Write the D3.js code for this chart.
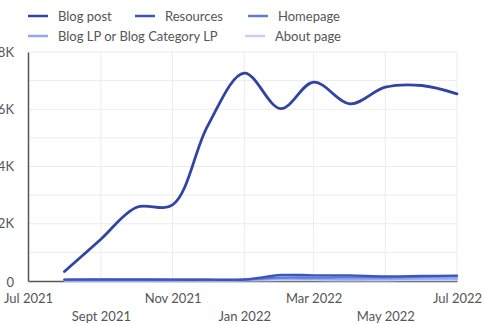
<!DOCTYPE html>
<html>
<head>
<meta charset="utf-8">
<script src="https://cdn.jsdelivr.net/npm/d3@7"></script>
<style>
  html, body { margin: 0; padding: 0; background: #fff; }
  svg text { font-family: Lato, "Open Sans", sans-serif; fill: #555; }
</style>
</head>
<body>
<svg id="chart" width="483" height="324"></svg>
<script>
// Monthly page views by page type
const months = ["2021-08-01","2021-09-01","2021-10-01","2021-11-01","2021-12-01","2022-01-01",
                "2022-02-01","2022-03-01","2022-04-01","2022-05-01","2022-06-01","2022-07-01"];
const seriesNames = ["Blog post", "Resources", "Homepage", "Blog LP or Blog Category LP", "About page"];
const blogPost   = [330, 1460, 2570, 2660, 5430, 7260, 6020, 6950, 6190, 6770, 6830, 6540];
const resources  = [45, 45, 50, 45, 45, 50, 210, 200, 195, 165, 175, 190];
const homepage   = [50, 55, 55, 50, 50, 55, 120, 120, 130, 130, 150, 160];
const blogLP     = [30, 35, 30, 30, 30, 35, 80, 75, 60, 70, 80, 80];
const aboutPage  = [15, 15, 15, 15, 15, 20, 30, 30, 25, 25, 30, 30];
const yTicks = [0, 2000, 4000, 6000, 8000];
const xTickLabels = ["Jul 2021", "Sept 2021", "Nov 2021", "Jan 2022", "Mar 2022", "May 2022", "Jul 2022"];
const xTickDates = ["2021-07-01","2021-09-01","2021-11-01","2022-01-01","2022-03-01","2022-05-01","2022-07-01"];

const colors = ["#2f45a3", "#3a55bd", "#5f7bd8", "#95a8ea", "#c6d0f3"];
const allValues = [blogPost, resources, homepage, blogLP, aboutPage];

const parse = d3.utcParse("%Y-%m-%d");
const dates = months.map(parse);

const svg = d3.select("#chart");
const m = { left: 28, right: 26, top: 52, bottom: 43 };
const W = 483, H = 324;

const x = d3.scaleUtc()
  .domain([parse("2021-07-01"), parse("2022-07-01")])
  .range([m.left, W - m.right]);
const y = d3.scaleLinear().domain([0, 8000]).range([H - m.bottom, m.top]);

// grid
const g = svg.append("g");
g.selectAll("line.hg").data(d3.range(1000, 8001, 1000)).join("line")
  .attr("x1", m.left).attr("x2", W - m.right)
  .attr("y1", d => y(d)).attr("y2", d => y(d))
  .attr("stroke", "#ececec").attr("stroke-width", 1);
g.selectAll("line.vg").data(xTickDates.slice(1).map(parse)).join("line")
  .attr("x1", d => x(d)).attr("x2", d => x(d))
  .attr("y1", m.top).attr("y2", H - m.bottom)
  .attr("stroke", "#ececec").attr("stroke-width", 1);

// axes
const yAxis = d3.axisLeft(y).tickValues(yTicks).tickSize(0).tickPadding(14)
  .tickFormat(d => d === 0 ? "0" : (d / 1000) + "K");
const ya = svg.append("g").attr("transform", `translate(${m.left},0)`).call(yAxis);
ya.select(".domain").attr("stroke", "#555").attr("stroke-width", 1.5);
ya.selectAll("text").attr("font-size", 13).attr("fill", "#555")
  .attr("dy", (d) => d === 0 ? "0.45em" : "0.32em");

const tickMap = new Map(xTickDates.map((d, i) => [+parse(d), xTickLabels[i]]));
const xAxis = d3.axisBottom(x).tickValues(xTickDates.map(parse)).tickSize(0)
  .tickFormat(d => tickMap.get(+d));
const xa = svg.append("g").attr("transform", `translate(0,${H - m.bottom})`).call(xAxis);
xa.select(".domain").attr("stroke", "#555").attr("stroke-width", 1.5);
xa.selectAll("text").attr("font-size", 13).attr("fill", "#555")
  .attr("y", (d, i) => i % 2 === 0 ? 13 : 31).attr("dy", "0.71em");

// lines, drawn light-to-dark so the main series sits on top
const line = d3.line()
  .x((d, i) => x(dates[i]))
  .y(d => y(d))
  .curve(d3.curveCatmullRom.alpha(0.5));

for (let s = allValues.length - 1; s >= 0; s--) {
  svg.append("path")
    .datum(allValues[s])
    .attr("d", line)
    .attr("fill", "none")
    .attr("stroke", colors[s])
    .attr("stroke-width", s === 0 ? 2.8 : 2.3)
    .attr("stroke-linecap", "round");
}

// legend
const legendPos = [[28, 16], [135, 16], [248, 16], [28, 36], [245, 36]];
const lg = svg.append("g");
seriesNames.forEach((name, i) => {
  const [lx, ly] = legendPos[i];
  lg.append("line").attr("x1", lx).attr("x2", lx + 20).attr("y1", ly).attr("y2", ly)
    .attr("stroke", colors[i]).attr("stroke-width", 2.5);
  lg.append("text").attr("x", lx + 30).attr("y", ly).attr("dy", "0.35em")
    .attr("font-size", 13).attr("fill", "#555").text(name);
});
</script>
</body>
</html>
